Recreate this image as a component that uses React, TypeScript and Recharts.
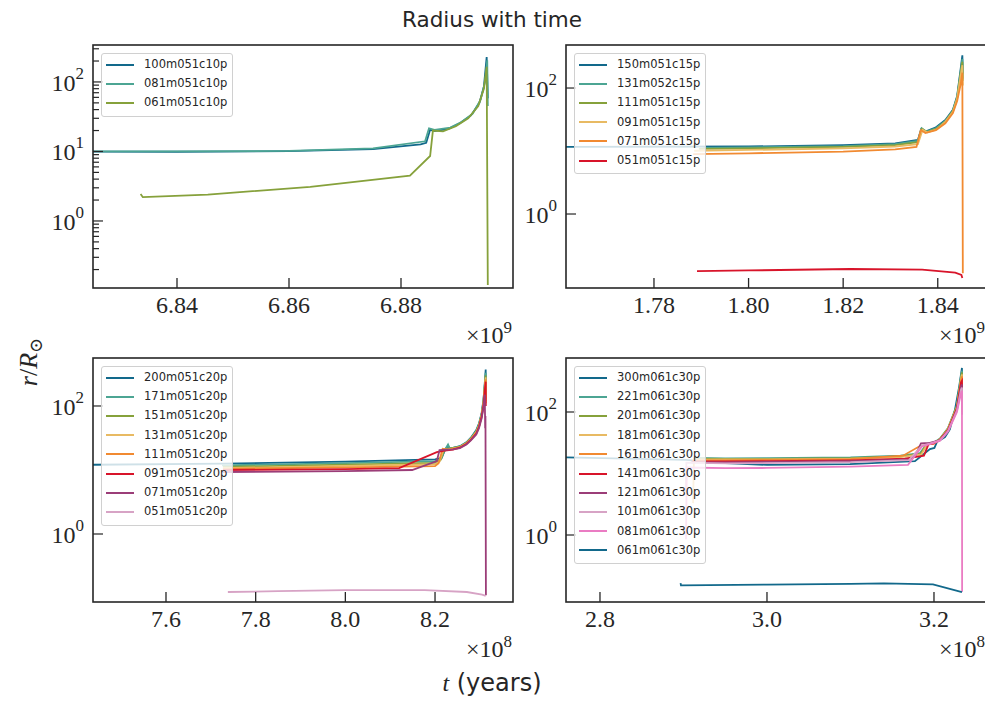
import React from "react";
import { LineChart, Line, XAxis, YAxis } from "recharts";

/**
 * Radius with time — four log-scale panels, one per core-mass grid.
 * Time is stored in units of the axis offset (1e9 yr top row, 1e8 yr bottom row),
 * radius in solar radii.
 */

type Pt = [number, number];

const SERIF = "'Liberation Serif', 'DejaVu Serif', serif";
const SANS = "'DejaVu Sans', 'Liberation Sans', sans-serif";
const INK = "#262626";

const palette = [
  "#12698b", "#4ca593", "#86a13b", "#e8ba63", "#f18a31",
  "#d8142a", "#9b3d78", "#d7a3c5", "#ea7cc3", "#12698b",
];

// ---------- panel 1 (×1e9 yr) ----------
const p1Names = ["100m051c10p", "081m051c10p", "061m051c10p"];
const p1_100: Pt[] = [[6.80, 10.0], [6.84, 9.9], [6.86, 10.1], [6.875, 10.8], [6.8835, 12.6], [6.8845, 13.3], [6.8852, 20.5], [6.886, 19.6], [6.8885, 21.2], [6.8905, 25.5], [6.8925, 33], [6.894, 50], [6.8948, 85], [6.8953, 228], [6.8955, 58]];
const p1_081: Pt[] = [[6.80, 10.0], [6.84, 10.0], [6.86, 10.2], [6.875, 11.1], [6.8843, 14.0], [6.885, 21.5], [6.886, 20.5], [6.8888, 22], [6.8908, 26.5], [6.8928, 35], [6.8942, 55], [6.895, 100], [6.8954, 205], [6.8955, 45]];
const p1_061: Pt[] = [[6.8335, 2.45], [6.8339, 2.2], [6.8455, 2.4], [6.8638, 3.1], [6.8816, 4.5], [6.8852, 8.6], [6.8857, 20.0], [6.8875, 19.4], [6.8898, 23], [6.892, 30], [6.8938, 45], [6.8948, 80], [6.8953, 165], [6.8955, 0.12]];
const p1TTicks = [6.84, 6.86, 6.88];
const p1TDomain: [number, number] = [6.825, 6.9];
const p1RDomain: [number, number] = [0.1086, 340];
const p1RTicks = [0.2, 0.3, 0.4, 0.5, 0.6, 0.7, 0.8, 0.9, 1, 2, 3, 4, 5, 6, 7, 8, 9, 10, 20, 30, 40, 50, 60, 70, 80, 90, 100, 200, 300];

// ---------- panel 2 (×1e9 yr) ----------
const p2Names = ["150m051c15p", "131m052c15p", "111m051c15p", "091m051c15p", "071m051c15p", "051m051c15p"];
const p2_150: Pt[] = [[1.755, 11.6], [1.80, 11.8], [1.82, 12.4], [1.831, 13.2], [1.8358, 15.0], [1.8365, 22.3], [1.8375, 20.6], [1.8395, 23.5], [1.8416, 31], [1.8432, 45], [1.8441, 75], [1.8448, 190], [1.8452, 330], [1.8453, 170]];
const p2_131: Pt[] = [[1.7905, 11.2], [1.80, 11.4], [1.82, 12.0], [1.831, 12.9], [1.8358, 14.5], [1.8366, 23], [1.8376, 20.3], [1.8396, 23], [1.8416, 30], [1.8432, 44], [1.8441, 72], [1.8448, 175], [1.8452, 290], [1.8453, 140]];
const p2_111: Pt[] = [[1.7895, 10.8], [1.80, 11.0], [1.82, 11.6], [1.831, 12.4], [1.8358, 13.8], [1.8367, 22.5], [1.8377, 20.0], [1.8397, 22.5], [1.8416, 29.5], [1.8432, 43], [1.8441, 70], [1.8448, 165], [1.8452, 260], [1.8453, 130]];
const p2_091: Pt[] = [[1.7885, 10.1], [1.80, 10.4], [1.82, 11.0], [1.831, 11.8], [1.8358, 12.9], [1.8368, 21.8], [1.8378, 19.8], [1.8398, 22], [1.8416, 29], [1.8432, 42], [1.8441, 68], [1.8448, 150], [1.8452, 230], [1.8453, 110]];
const p2_071: Pt[] = [[1.7883, 8.9], [1.80, 9.2], [1.82, 9.8], [1.831, 10.6], [1.8355, 11.6], [1.8364, 21.5], [1.8374, 19.3], [1.8396, 21.5], [1.8416, 27.5], [1.8432, 40], [1.8441, 62], [1.8448, 110], [1.8452, 175], [1.8453, 0.115]];
const p2_051: Pt[] = [[1.7891, 0.124], [1.80, 0.127], [1.8215, 0.134], [1.8367, 0.131], [1.8437, 0.117], [1.845, 0.108], [1.8452, 0.096]];
const p2TTicks = [1.78, 1.80, 1.82, 1.84];
const p2TDomain: [number, number] = [1.7614, 1.8502];
const p2RDomain: [number, number] = [0.0669, 482];
const p2RTicks = [1, 100];

// ---------- panel 3 (×1e8 yr) ----------
const p3Names = ["200m051c20p", "171m051c20p", "151m051c20p", "131m051c20p", "111m051c20p", "091m051c20p", "071m051c20p", "051m051c20p"];
const p3_200: Pt[] = [[7.40, 12.0], [7.727, 12.6], [8.0, 13.5], [8.2, 14.6], [8.215, 15.5], [8.222, 20.5], [8.229, 24.0], [8.233, 21.5], [8.2555, 23.5], [8.27, 27], [8.28, 32], [8.292, 42], [8.298, 53], [8.304, 78], [8.308, 125], [8.311, 230], [8.313, 370], [8.3133, 150]];
const p3_171: Pt[] = [[7.725, 11.8], [8.0, 12.8], [8.2, 13.8], [8.214, 15.0], [8.221, 20.0], [8.229, 25.0], [8.233, 21.5], [8.2555, 23.3], [8.27, 26.8], [8.28, 31.5], [8.292, 41], [8.298, 52], [8.304, 76], [8.308, 120], [8.311, 215], [8.313, 330], [8.3133, 140]];
const p3_151: Pt[] = [[7.727, 11.2], [8.0, 12.1], [8.2, 12.9], [8.212, 14.2], [8.22, 20.2], [8.23, 21.5], [8.2555, 23], [8.27, 26.5], [8.28, 31], [8.292, 40], [8.298, 50], [8.304, 74], [8.308, 115], [8.311, 205], [8.313, 300], [8.3133, 130]];
const p3_131: Pt[] = [[7.727, 10.7], [8.0, 11.6], [8.2, 12.3], [8.21, 13.5], [8.219, 20.8], [8.23, 21], [8.2555, 22.8], [8.27, 26.2], [8.28, 30.5], [8.292, 39], [8.298, 49], [8.304, 72], [8.308, 110], [8.311, 195], [8.313, 280], [8.3133, 120]];
const p3_111: Pt[] = [[7.727, 10.4], [8.0, 11.0], [8.2, 11.5], [8.208, 12.8], [8.217, 21.5], [8.23, 20.8], [8.2555, 22.5], [8.27, 26], [8.28, 30], [8.292, 38], [8.298, 48], [8.304, 70], [8.308, 105], [8.311, 185], [8.313, 260], [8.3133, 110]];
const p3_091: Pt[] = [[7.727, 10.0], [8.0, 10.3], [8.12, 10.7], [8.204, 19.0], [8.222, 20.0], [8.24, 20.8], [8.2555, 22.3], [8.27, 25.5], [8.28, 29.5], [8.292, 37], [8.298, 47], [8.304, 68], [8.308, 100], [8.311, 175], [8.313, 240], [8.3133, 100]];
const p3_071: Pt[] = [[7.727, 9.3], [8.0, 9.6], [8.149, 10.0], [8.204, 13.8], [8.21, 20.5], [8.24, 21], [8.2555, 22], [8.27, 25], [8.28, 29], [8.292, 36], [8.298, 45], [8.304, 64], [8.308, 95], [8.311, 150], [8.3118, 45], [8.3125, 70], [8.3135, 0.11]];
const p3_051: Pt[] = [[7.738, 0.124], [7.85, 0.128], [7.999, 0.133], [8.177, 0.133], [8.271, 0.124], [8.305, 0.113], [8.313, 0.108]];
const p3TTicks = [7.6, 7.8, 8.0, 8.2];
const p3TDomain: [number, number] = [7.4372, 8.3739];
const p3RDomain: [number, number] = [0.0866, 562];
const p3RTicks = [1, 100];

// ---------- panel 4 (×1e8 yr) ----------
const p4Names = ["300m061c30p", "221m061c30p", "201m061c30p", "181m061c30p", "161m061c30p", "141m061c30p", "121m061c30p", "101m061c30p", "081m061c30p", "061m061c30p"];
const p4_300: Pt[] = [[2.74, 18.6], [2.903, 16.6], [2.95, 14.8], [3.0, 13.8], [3.0994, 14.2], [3.1772, 15.9], [3.1952, 25], [3.2005, 26], [3.2036, 32.5], [3.2132, 39], [3.219, 52], [3.2251, 108], [3.23, 250], [3.2335, 520], [3.2337, 200]];
const p4_221: Pt[] = [[2.9125, 18.0], [2.95, 17.6], [3.0, 17.8], [3.1, 18.2], [3.16, 19.5], [3.1832, 21.5], [3.1916, 30.5], [3.2, 32], [3.2072, 37], [3.2168, 55], [3.2275, 130], [3.2323, 380], [3.2335, 470], [3.2337, 150]];
const p4_201: Pt[] = [[2.912, 17.5], [2.95, 17.2], [3.0, 17.3], [3.1, 17.8], [3.16, 19.0], [3.184, 21.0], [3.1916, 30.0], [3.2, 31.5], [3.2072, 36.5], [3.2168, 54], [3.2275, 125], [3.2323, 360], [3.2335, 440], [3.2337, 140]];
const p4_181: Pt[] = [[2.9115, 3.3], [2.9125, 16.8], [2.95, 16.9], [3.0, 17.0], [3.1, 17.4], [3.16, 18.5], [3.185, 20.5], [3.1916, 29.5], [3.2, 31], [3.2072, 36], [3.2168, 53], [3.2275, 120], [3.2323, 340], [3.2335, 410], [3.2337, 130]];
const p4_161: Pt[] = [[2.911, 16.4], [2.95, 16.4], [3.0, 16.6], [3.1, 17.1], [3.1629, 19.5], [3.1832, 28], [3.1916, 29.5], [3.2, 30.5], [3.2072, 35.5], [3.2168, 52], [3.2275, 118], [3.2323, 320], [3.2335, 380], [3.2337, 120]];
const p4_141: Pt[] = [[2.91, 15.8], [2.95, 15.7], [3.0, 15.9], [3.1, 16.4], [3.165, 17.5], [3.188, 19.5], [3.1935, 30], [3.2, 31], [3.2072, 35.5], [3.2168, 51], [3.2275, 115], [3.2323, 300], [3.2335, 320], [3.2337, 110]];
const p4_121: Pt[] = [[2.909, 15.2], [2.95, 15.2], [3.0, 15.4], [3.1, 15.9], [3.17, 17.0], [3.1772, 19.0], [3.1844, 31], [3.195, 31.5], [3.2072, 35], [3.2168, 50], [3.2275, 110], [3.2323, 260], [3.2335, 280], [3.2337, 100]];
const p4_101: Pt[] = [[2.9025, 5.0], [2.9035, 15.0], [2.95, 14.6], [3.0, 14.8], [3.1, 15.3], [3.17, 16.5], [3.1856, 28.5], [3.195, 30.5], [3.2072, 34.5], [3.2168, 49], [3.2275, 105], [3.2323, 230], [3.2335, 250], [3.2337, 90]];
const p4_081: Pt[] = [[2.903, 0.85], [2.904, 12.5], [2.95, 12.2], [3.0, 12.3], [3.1, 12.9], [3.1689, 13.8], [3.1856, 27.5], [3.195, 30], [3.2072, 34], [3.2168, 48], [3.2275, 100], [3.2323, 200], [3.2335, 220], [3.2337, 0.12]];
const p4_061: Pt[] = [[2.8965, 0.165], [2.897, 0.152], [3.0, 0.156], [3.1, 0.161], [3.14, 0.163], [3.1988, 0.158], [3.2335, 0.118]];
const p4TTicks = [2.8, 3.0, 3.2];
const p4TDomain: [number, number] = [2.7593, 3.2623];
const p4RDomain: [number, number] = [0.0814, 755];
const p4RTicks = [1, 100];

const PW = 420;

const panels = [
  { left: 93, top: 45, h: 243, names: p1Names, series: [p1_100, p1_081, p1_061], tDomain: p1TDomain, tTicks: p1TTicks, digits: 2, rDomain: p1RDomain, rTicks: p1RTicks, exp: "9" },
  { left: 566, top: 45, h: 243, names: p2Names, series: [p2_150, p2_131, p2_111, p2_091, p2_071, p2_051], tDomain: p2TDomain, tTicks: p2TTicks, digits: 2, rDomain: p2RDomain, rTicks: p2RTicks, exp: "9" },
  { left: 93, top: 358, h: 244, names: p3Names, series: [p3_200, p3_171, p3_151, p3_131, p3_111, p3_091, p3_071, p3_051], tDomain: p3TDomain, tTicks: p3TTicks, digits: 1, rDomain: p3RDomain, rTicks: p3RTicks, exp: "8" },
  { left: 566, top: 358, h: 244, names: p4Names, series: [p4_300, p4_221, p4_201, p4_181, p4_161, p4_141, p4_121, p4_101, p4_081, p4_061], tDomain: p4TDomain, tTicks: p4TTicks, digits: 1, rDomain: p4RDomain, rTicks: p4RTicks, exp: "8" },
];

function XTick(props: any) {
  const { x, y, payload, digits } = props;
  return (
    <g>
      <line x1={x} x2={x} y1={y} y2={y - 10} stroke={INK} strokeWidth={1.3} />
      <text x={x} y={y + 25} textAnchor="middle" fontFamily={SERIF} fontSize={24} fill={INK}>
        {Number(payload.value).toFixed(digits)}
      </text>
    </g>
  );
}

function YTick(props: any) {
  const { x, y, payload } = props;
  const lg = Math.log10(payload.value);
  const e = Math.round(lg);
  const major = Math.abs(lg - e) < 1e-6;
  return (
    <g>
      <line x1={x} x2={x + (major ? 10 : 6)} y1={y} y2={y} stroke={INK} strokeWidth={1.2} />
      {major && (
        <text x={x - 9} y={y + 1} textAnchor="end" dominantBaseline="central" fontFamily={SERIF} fontSize={24} fill={INK}>
          10<tspan dy={-10} fontSize={17}>{e}</tspan>
        </text>
      )}
    </g>
  );
}

function Panel({ p }: { p: (typeof panels)[number] }) {
  const data = p.series.map((s) => s.map(([t, r]) => ({ t, r })));
  return (
    <div style={{ position: "absolute", left: p.left - 70, top: p.top - 5 }}>
      <LineChart width={PW + 75} height={p.h + 50} margin={{ top: 5, right: 5, bottom: 0, left: 0 }}>
        <XAxis
          type="number"
          dataKey="t"
          domain={p.tDomain}
          ticks={p.tTicks}
          allowDataOverflow
          interval={0}
          height={45}
          axisLine={false}
          tickLine={false}
          tickSize={0}
          tickMargin={0}
          tick={(tp: any) => <XTick {...tp} digits={p.digits} />}
        />
        <YAxis
          type="number"
          scale="log"
          domain={p.rDomain}
          ticks={p.rTicks}
          allowDataOverflow
          interval={0}
          width={70}
          axisLine={false}
          tickLine={false}
          tickSize={0}
          tickMargin={0}
          tick={(tp: any) => <YTick {...tp} />}
        />
        {data.map((d, i) => (
          <Line
            key={p.names[i]}
            data={d}
            dataKey="r"
            name={p.names[i]}
            type="linear"
            stroke={palette[i]}
            strokeWidth={1.8}
            dot={false}
            isAnimationActive={false}
          />
        ))}
      </LineChart>
    </div>
  );
}

function LegendBox({ p }: { p: (typeof panels)[number] }) {
  return (
    <div
      style={{
        position: "absolute",
        left: p.left + 8,
        top: p.top + 8,
        width: 132,
        padding: "1px 0 3px 0",
        background: "rgba(255,255,255,0.8)",
        border: "1px solid #d0d0d0",
        borderRadius: 3,
        boxSizing: "border-box",
      }}
    >
      {p.names.map((n, i) => (
        <div key={n} style={{ height: 19.2, display: "flex", alignItems: "center" }}>
          <span style={{ display: "inline-block", width: 28, height: 2, marginLeft: 4, background: palette[i] }} />
          <span style={{ marginLeft: 10, fontFamily: SANS, fontSize: 11.5, color: INK, lineHeight: "19px" }}>{n}</span>
        </div>
      ))}
    </div>
  );
}

export default function App() {
  return (
    <div style={{ position: "absolute", left: 0, top: 0, width: 985, height: 702, background: "#fff", overflow: "hidden" }}>
      {panels.map((p, i) => (
        <Panel key={i} p={p} />
      ))}
      <svg width={985} height={702} style={{ position: "absolute", left: 0, top: 0, pointerEvents: "none" }}>
        {panels.map((p, i) => (
          <g key={i}>
            <rect x={p.left} y={p.top} width={PW} height={p.h} fill="none" stroke={INK} strokeWidth={1.6} />
            <text x={p.left + PW - 1} y={p.top + p.h + 55} textAnchor="end" fontFamily={SERIF} fontSize={24} fill={INK}>
              ×10<tspan dy={-10} fontSize={17}>{p.exp}</tspan>
            </text>
          </g>
        ))}
        <text x={492} y={27} textAnchor="middle" fontFamily={SANS} fontSize={21.5} fill={INK}>
          Radius with time
        </text>
        <text x={492} y={691} textAnchor="middle" fontSize={24} fill={INK}>
          <tspan fontFamily={SERIF} fontStyle="italic">t</tspan>
          <tspan fontFamily={SANS}> (years)</tspan>
        </text>
        <text x={37} y={362} textAnchor="middle" fontFamily={SERIF} fontSize={26} fill={INK} transform="rotate(-90 37 362)">
          <tspan fontStyle="italic">r</tspan>
          <tspan>/</tspan>
          <tspan fontStyle="italic">R</tspan>
          <tspan dy={5} fontSize={18}>⊙</tspan>
        </text>
      </svg>
      {panels.map((p, i) => (
        <LegendBox key={i} p={p} />
      ))}
    </div>
  );
}
